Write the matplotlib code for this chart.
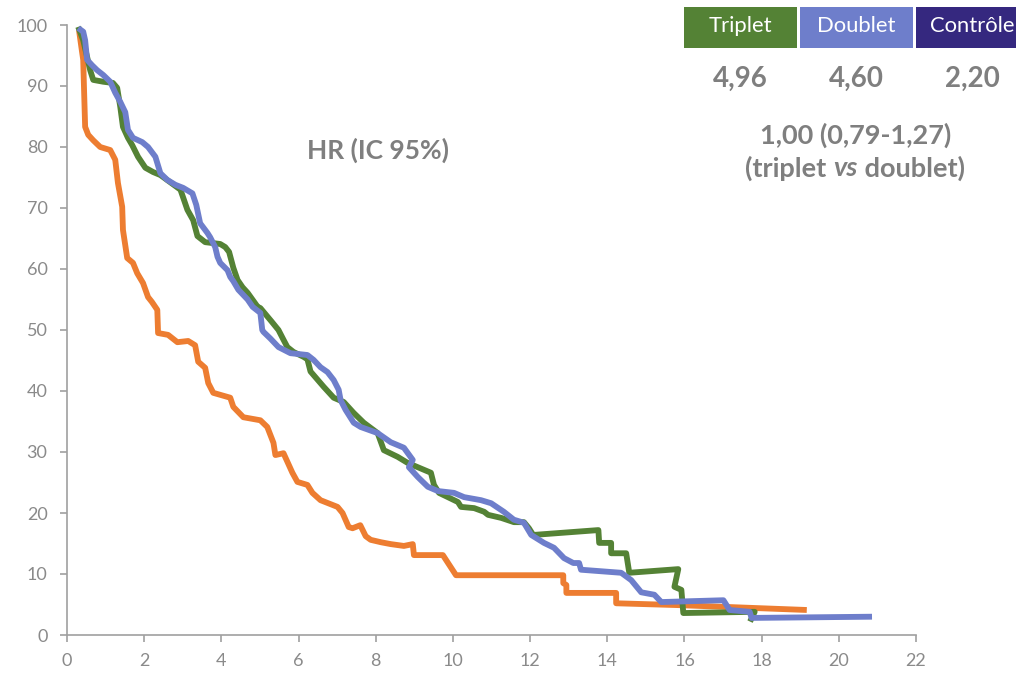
import matplotlib
matplotlib.use("Agg")
import matplotlib.pyplot as plt
from matplotlib.patches import Rectangle

plt.rcParams['font.family'] = ['Lato', 'DejaVu Sans']

# Survival curves (months, % of patients)
triplet_t = [0.29, 0.42, 0.52, 0.60, 0.68, 0.94, 1.19, 1.30, 1.38, 1.45, 1.58, 1.69, 1.84, 2.03,
             2.23, 2.42, 2.68, 2.94, 3.12, 3.27, 3.38, 3.58, 3.97, 4.10, 4.20, 4.31, 4.42, 4.55,
             4.68, 4.94, 5.01, 5.30, 5.48, 5.61, 5.71, 5.87, 6.13, 6.23, 6.31, 6.65, 6.91, 7.17,
             7.43, 7.69, 8.05, 8.21, 8.57, 8.83, 9.43, 9.51, 9.64, 9.87, 10.13, 10.21, 10.55,
             10.81, 10.91, 11.25, 11.58, 11.84, 11.97, 12.08, 13.77, 13.79, 14.10, 14.10, 14.49,
             14.57, 15.84, 15.74, 15.92, 15.97, 17.82, 17.70]
triplet_s = [99.7, 97.5, 94.8, 92.6, 91.0, 90.7, 90.5, 89.7, 86.6, 83.3, 81.5, 80.3, 78.4, 76.6,
             75.9, 75.4, 74.2, 73.0, 69.7, 68.0, 65.4, 64.4, 64.1, 63.6, 62.8, 60.2, 58.2, 57.0,
             56.1, 53.8, 53.6, 51.4, 50.0, 48.4, 47.2, 46.4, 45.6, 45.2, 43.2, 40.7, 38.9, 38.2,
             36.4, 34.8, 33.1, 30.3, 29.2, 28.2, 26.6, 24.6, 23.3, 22.6, 21.8, 21.0, 20.8,
             20.2, 19.7, 19.2, 18.5, 18.5, 17.5, 16.4, 17.2, 15.1, 15.1, 13.4, 13.4,
             10.2, 10.8, 7.9, 7.4, 3.6, 3.8, 2.2]

doublet_t = [0.29, 0.42, 0.47, 0.52, 0.65, 0.78, 0.94, 1.12, 1.25, 1.38, 1.51, 1.58, 1.71, 1.95,
             2.10, 2.29, 2.42, 2.60, 2.81, 3.01, 3.25, 3.35, 3.45, 3.64, 3.71, 3.84, 3.90, 3.97,
             4.16, 4.23, 4.31, 4.44, 4.68, 4.81, 5.01, 5.06, 5.09, 5.27, 5.48, 5.79, 6.23, 6.39,
             6.57, 6.75, 6.91, 7.04, 7.09, 7.22, 7.43, 7.61, 8.05, 8.39, 8.73, 8.96, 8.86, 9.09,
             9.35, 9.61, 10.03, 10.29, 10.73, 10.99, 11.32, 11.58, 11.84, 12.03, 12.36, 12.62,
             12.88, 13.12, 13.27, 13.32, 14.36, 14.62, 14.88, 15.22, 15.40, 17.01, 17.17, 17.69,
             17.74, 20.86]
doublet_s = [99.5, 98.9, 97.5, 94.3, 93.4, 92.6, 91.8, 90.7, 88.9, 87.4, 85.7, 82.8, 81.5, 80.8,
             80.0, 78.4, 75.7, 74.6, 73.8, 73.3, 72.4, 70.5, 67.5, 65.9, 65.2, 63.6, 62.0, 61.0,
             59.8, 58.7, 58.0, 56.6, 55.0, 53.8, 52.8, 50.0, 49.7, 48.6, 47.2, 46.2, 45.9, 45.1,
             43.9, 43.1, 41.8, 40.2, 38.5, 36.9, 34.8, 34.1, 33.1, 31.6, 30.7, 28.7, 27.5, 25.9,
             24.3, 23.6, 23.3, 22.6, 22.1, 21.6, 20.2, 18.9, 18.4, 16.4, 15.1, 14.3,
             12.6, 11.8, 11.8, 10.7, 10.2, 9.0, 7.0, 6.6, 5.4, 5.7, 4.1, 3.8,
             2.8, 3.0]

control_t = [0.31, 0.39, 0.42, 0.44, 0.47, 0.55, 0.68, 0.86, 1.12, 1.25, 1.32, 1.43, 1.45, 1.56,
             1.71, 1.82, 1.97, 2.10, 2.20, 2.34, 2.36, 2.62, 2.86, 3.14, 3.32, 3.40, 3.58, 3.66,
             3.79, 4.23, 4.31, 4.57, 5.01, 5.19, 5.35, 5.40, 5.61, 5.84, 5.97, 6.23, 6.36, 6.57,
             7.01, 7.14, 7.30, 7.40, 7.60, 7.74, 7.87, 8.14, 8.39, 8.73, 8.96, 8.99, 9.74, 10.08,
             12.86, 12.86, 12.94, 12.94, 14.23, 14.23, 15.84, 19.17]
control_s = [99.2, 95.6, 94.3, 89.8, 83.3, 82.0, 81.1, 80.0, 79.5, 77.9, 74.1, 70.2, 66.4, 61.8,
             61.0, 59.3, 57.7, 55.4, 54.6, 53.3, 49.5, 49.2, 48.0, 48.2, 47.5, 44.8, 43.8, 41.3,
             39.7, 38.9, 37.4, 35.7, 35.2, 34.1, 31.5, 29.5, 29.8, 26.6, 25.1, 24.6, 23.3, 22.1,
             21.0, 20.0, 17.7, 17.5, 18.0, 16.2, 15.6, 15.2, 14.9, 14.6, 14.9, 13.1, 13.1, 9.8,
             9.8, 8.5, 8.2, 6.9, 6.9, 5.2, 4.9, 4.1]

groups = ["Triplet", "Doublet", "Contrôle"]
medians = ["4,96", "4,60", "2,20"]
hr_text = "1,00 (0,79-1,27)"

x_ticks = list(range(0, 23, 2))
y_ticks = list(range(0, 101, 10))

GREEN = "#548235"
BLUE = "#6E7ECB"
ORANGE = "#ED7D31"
PURPLE = "#35287F"
TEXT_GREY = "#7F7F7F"
AXIS_GREY = "#A0A0A0"
TICK_GREY = "#8A8A8A"

W, H = 1016, 673
fig = plt.figure(figsize=(W / 100, H / 100), dpi=100)
ax = fig.add_axes([67 / W, 1 - 635 / H, (916 - 67) / W, (635 - 25) / H])

lw = 4.2
ax.plot(control_t, control_s, color=ORANGE, lw=lw, solid_joinstyle='round', solid_capstyle='butt')
ax.plot(triplet_t, triplet_s, color=GREEN, lw=lw, solid_joinstyle='round', solid_capstyle='butt')
ax.plot(doublet_t, doublet_s, color=BLUE, lw=lw, solid_joinstyle='round', solid_capstyle='butt')

ax.set_xlim(0, 22)
ax.set_ylim(0, 100)
ax.set_xticks(x_ticks)
ax.set_yticks(y_ticks)
ax.set_xticklabels([str(v) for v in x_ticks])
ax.set_yticklabels([str(v) for v in y_ticks])
for side in ("top", "right"):
    ax.spines[side].set_visible(False)
for side in ("left", "bottom"):
    ax.spines[side].set_color(AXIS_GREY)
    ax.spines[side].set_linewidth(1.2)
ax.tick_params(axis='both', direction='out', length=5, width=1.2, color=AXIS_GREY,
               labelcolor=TICK_GREY, labelsize=13)
ax.tick_params(axis='y', pad=9)
ax.tick_params(axis='x', pad=8)

# Overlay in pixel coordinates for the annotation table
ov = fig.add_axes([0, 0, 1, 1], zorder=5)
ov.set_xlim(0, W)
ov.set_ylim(H, 0)
ov.axis('off')
ov.patch.set_alpha(0)

box_x = [684, 800, 916]
box_w = [113, 113, 110]
box_cols = [GREEN, BLUE, PURPLE]
label_cx = [740, 856, 972]
for x0, bw, col, name, cx, med in zip(box_x, box_w, box_cols, groups, label_cx, medians):
    ov.add_patch(Rectangle((x0, 7), bw, 41, facecolor=col, edgecolor='none', clip_on=False))
    ov.text(cx, 26, name, color='white', fontsize=15.8, ha='center', va='center')
    ov.text(cx, 79, med, color=TEXT_GREY, fontsize=20, fontweight='bold', ha='center', va='center')

ov.text(856, 135, hr_text, color=TEXT_GREY, fontsize=19.5, fontweight='bold', ha='center', va='center')
ov.text(378, 150, "HR (IC 95%)", color=TEXT_GREY, fontsize=19, fontweight='bold', ha='center', va='center')

# "(triplet vs doublet)" with an italic "vs"
parts = [("(triplet ", 'normal'), ("vs", 'italic'), (" doublet)", 'normal')]
texts = [ov.text(0, 168, s, color=TEXT_GREY, fontsize=19.5, fontweight='bold', style=st,
                 ha='left', va='center') for s, st in parts]
fig.canvas.draw()
r = fig.canvas.get_renderer()
inv = ov.transData.inverted()
widths = []
for t in texts:
    bb = t.get_window_extent(r)
    (x0d, _), (x1d, _) = inv.transform([(bb.x0, bb.y0), (bb.x1, bb.y1)])
    widths.append(x1d - x0d)
start = 855 - sum(widths) / 2
for t, w_ in zip(texts, widths):
    t.set_x(start)
    start += w_

fig.savefig("out.png", dpi=100, facecolor='white')
